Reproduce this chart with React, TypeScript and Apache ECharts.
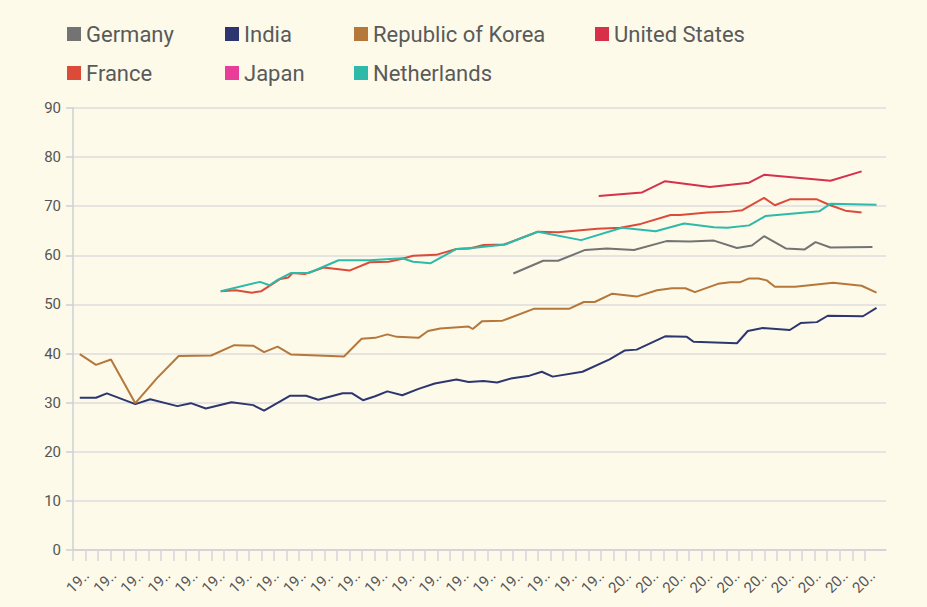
import React, { useEffect, useRef } from "react";
import * as echarts from "echarts";

// Tick labels (years, shown truncated like the original)
const xLabels = [
  1960, 1962, 1964, 1966, 1968, 1970, 1972, 1974, 1976, 1978,
  1980, 1982, 1984, 1986, 1988, 1990, 1992, 1994, 1996, 1998,
  2000, 2002, 2004, 2006, 2008, 2010, 2012, 2014, 2016, 2018,
];

const seriesNames = [
  "Germany",
  "India",
  "Republic of Korea",
  "United States",
  "France",
  "Japan",
  "Netherlands",
];

const germany = [
  [1991.5, 56.3], [1993.7, 58.9], [1994.8, 58.9], [1996.8, 61.1], [1998.4, 61.4],
  [2000.4, 61.1], [2002.8, 62.9], [2004.5, 62.8], [2006.3, 63.0], [2008.0, 61.5],
  [2009.1, 62.0], [2010.0, 63.9], [2011.6, 61.4], [2013.0, 61.2], [2013.8, 62.7],
  [2014.9, 61.6], [2018.0, 61.7],
];

const india = [
  [1959.5, 31.0], [1960.7, 31.0], [1961.5, 31.9], [1963.6, 29.7], [1964.7, 30.7],
  [1966.7, 29.3], [1967.7, 29.9], [1968.8, 28.8], [1970.7, 30.1], [1972.3, 29.5],
  [1973.1, 28.4], [1975.0, 31.4], [1976.2, 31.4], [1977.1, 30.6], [1978.9, 31.9],
  [1979.6, 31.9], [1980.4, 30.5], [1981.3, 31.3], [1982.2, 32.3], [1983.3, 31.5],
  [1984.5, 32.8], [1985.7, 33.9], [1987.3, 34.7], [1988.2, 34.2], [1989.3, 34.4],
  [1990.3, 34.1], [1991.3, 34.9], [1992.7, 35.5], [1993.6, 36.3], [1994.4, 35.3],
  [1996.6, 36.3], [1998.6, 38.8], [1999.7, 40.6], [2000.6, 40.8], [2002.7, 43.5],
  [2004.3, 43.4], [2004.8, 42.4], [2008.0, 42.1], [2008.8, 44.6], [2009.9, 45.2],
  [2011.9, 44.8], [2012.7, 46.2], [2013.9, 46.4], [2014.7, 47.7], [2017.3, 47.6],
  [2018.3, 49.3],
];

const korea = [
  [1959.5, 39.9], [1960.7, 37.7], [1961.8, 38.8], [1963.6, 29.9], [1965.2, 35.0],
  [1966.8, 39.5], [1969.2, 39.6], [1970.9, 41.7], [1972.3, 41.6], [1973.1, 40.3],
  [1974.1, 41.4], [1975.1, 39.8], [1979.0, 39.4], [1980.3, 43.0], [1981.3, 43.2],
  [1982.2, 43.9], [1982.9, 43.4], [1984.5, 43.2], [1985.2, 44.6], [1986.1, 45.1],
  [1988.2, 45.5], [1988.5, 45.0], [1989.2, 46.6], [1990.7, 46.7], [1993.0, 49.1],
  [1995.6, 49.1], [1996.7, 50.5], [1997.5, 50.5], [1998.8, 52.2], [2000.6, 51.6],
  [2002.1, 52.9], [2003.2, 53.3], [2004.2, 53.3], [2004.9, 52.5], [2006.6, 54.2],
  [2007.5, 54.5], [2008.2, 54.5], [2008.9, 55.3], [2009.6, 55.3], [2010.2, 54.9],
  [2010.8, 53.6], [2012.3, 53.6], [2015.1, 54.4], [2017.2, 53.8], [2018.3, 52.4],
];

const unitedStates = [
  [1997.8, 72.1], [2001.0, 72.8], [2002.7, 75.1], [2006.0, 73.9], [2008.9, 74.8],
  [2010.0, 76.4], [2014.9, 75.2], [2017.2, 77.1],
];

const france = [
  [1969.9, 52.7], [1971.0, 52.9], [1972.2, 52.4], [1972.9, 52.7], [1974.3, 55.2],
  [1974.9, 55.5], [1975.2, 56.4], [1976.1, 56.2], [1977.5, 57.5], [1979.4, 56.9],
  [1980.9, 58.6], [1982.3, 58.7], [1983.3, 59.3], [1984.1, 59.9], [1985.8, 60.1],
  [1987.3, 61.3], [1988.3, 61.4], [1989.3, 62.1], [1990.8, 62.2], [1993.3, 64.8],
  [1994.8, 64.7], [1997.7, 65.4], [1999.4, 65.6], [2000.9, 66.4], [2003.1, 68.2],
  [2003.8, 68.2], [2005.8, 68.7], [2007.5, 68.9], [2008.4, 69.2], [2010.0, 71.7],
  [2010.8, 70.2], [2011.9, 71.4], [2013.9, 71.4], [2014.8, 70.3], [2016.0, 69.1],
  [2017.2, 68.7],
];

const japan: number[][] = [];

const netherlands = [
  [1969.9, 52.7], [1972.8, 54.6], [1973.5, 53.9], [1974.1, 55.0], [1975.1, 56.4],
  [1976.4, 56.4], [1978.6, 59.0], [1980.9, 59.0], [1983.3, 59.4], [1984.1, 58.7],
  [1985.4, 58.4], [1987.3, 61.3], [1988.8, 61.6], [1990.9, 62.2], [1993.3, 64.8],
  [1996.5, 63.1], [1999.5, 65.6], [2002.0, 64.9], [2004.1, 66.5], [2006.3, 65.7],
  [2007.3, 65.6], [2008.9, 66.1], [2010.1, 68.0], [2014.1, 69.0], [2014.9, 70.5],
  [2018.3, 70.3],
];

const colors = ["#737373", "#2e3670", "#b5773a", "#d6304b", "#dc4b3a", "#e83e9a", "#2dbaa8"];

const X_MIN = 1959;
const X_MAX = 2019;
const TICK_STEP = 0.9276;

export default function App() {
  const ref = useRef<HTMLDivElement>(null);

  useEffect(() => {
    if (!ref.current) return;
    const chart = echarts.init(ref.current, null, { renderer: "svg" });
    const dataSets = [germany, india, korea, unitedStates, france, japan, netherlands];
    const tickValues: number[] = [];
    for (let k = 0; k < 64; k++) tickValues.push(+(X_MIN + k * TICK_STEP).toFixed(4));

    const legendBase = {
      orient: "vertical" as const,
      top: 18,
      icon: "rect",
      itemWidth: 14,
      itemHeight: 14,
      itemGap: 17,
      textStyle: {
        fontFamily: "Roboto",
        fontSize: 22,
        lineHeight: 22,
        color: "#5a5a5a",
      },
    };

    chart.setOption({
      animation: false,
      backgroundColor: "#fdfaea",
      color: colors,
      textStyle: { fontFamily: "Roboto" },
      legend: [
        { ...legendBase, left: 62, data: ["Germany", "France"] },
        { ...legendBase, left: 220, data: ["India", "Japan"] },
        { ...legendBase, left: 349, data: ["Republic of Korea", "Netherlands"] },
        { ...legendBase, left: 590, data: ["United States"] },
      ],
      grid: { left: 73, right: 41, top: 108, bottom: 57 },
      xAxis: {
        type: "value",
        min: X_MIN,
        max: X_MAX,
        axisLine: { show: true, lineStyle: { color: "#cfcfd6", width: 1.5 } },
        axisTick: {
          show: true,
          length: 11,
          customValues: tickValues,
          lineStyle: { color: "#d6d6dc", width: 1.5 },
        },
        splitLine: { show: false },
        axisLabel: {
          customValues: xLabels,
          formatter: (v: number) => String(Math.round(v)),
          rotate: 45,
          margin: 23,
          fontSize: 15,
          color: "#555555",
          width: 28,
          overflow: "truncate",
          ellipsis: "..",
        },
      },
      yAxis: {
        type: "value",
        min: 0,
        max: 90,
        interval: 10,
        axisLine: { show: true, lineStyle: { color: "#cfcfd6", width: 1.5 } },
        axisTick: { show: true, length: 7, lineStyle: { color: "#cfcfd6", width: 1.5 } },
        axisLabel: { fontSize: 15, color: "#555555", margin: 12 },
        splitLine: { show: true, lineStyle: { color: "#dcdcdc", width: 1.5 } },
      },
      series: seriesNames.map((name, i) => ({
        name,
        type: "line",
        data: dataSets[i],
        showSymbol: false,
        symbol: "none",
        lineStyle: { width: 2, color: colors[i] },
        itemStyle: { color: colors[i] },
      })),
    });

    return () => chart.dispose();
  }, []);

  return (
    <div
      ref={ref}
      style={{ position: "fixed", left: 0, top: 0, width: 927, height: 607 }}
    />
  );
}
